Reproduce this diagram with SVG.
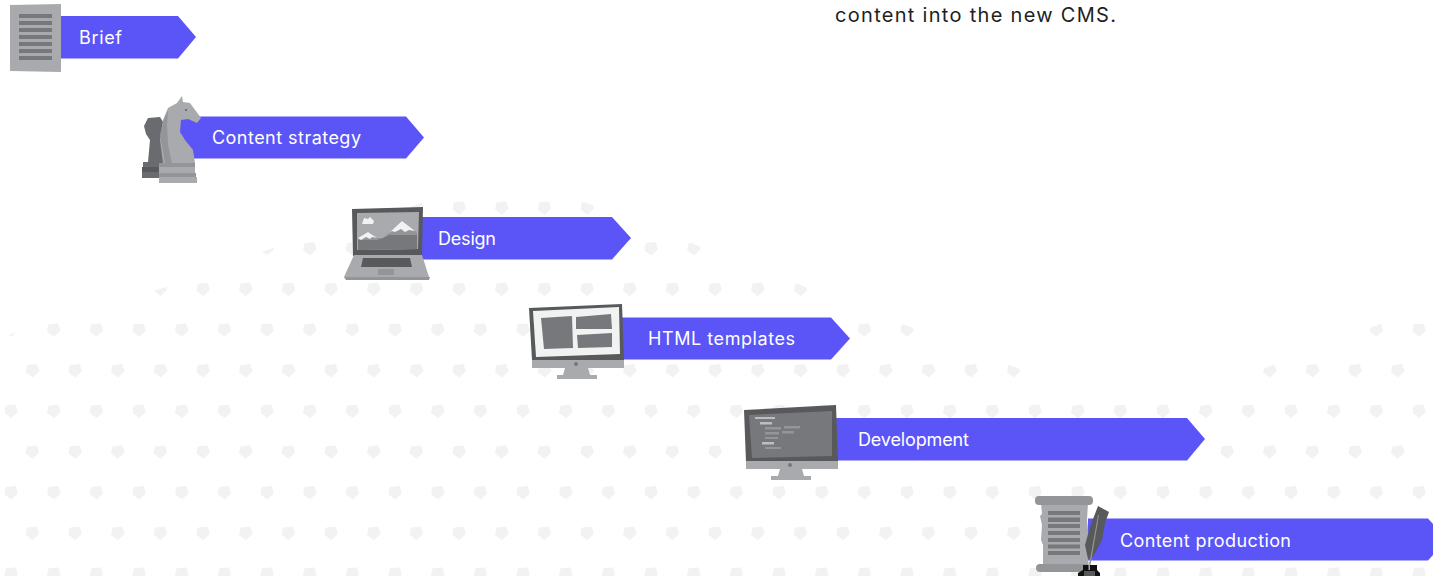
<svg xmlns="http://www.w3.org/2000/svg" xmlns:xlink="http://www.w3.org/1999/xlink" width="1433" height="576" viewBox="0 0 1433 576">
<style>
.bar{fill:#5b55f7}
.lbl{font-family:"Inter","Liberation Sans",sans-serif;font-size:18px;fill:#fff}
.note{font-family:"Inter","Liberation Sans",sans-serif;font-size:20px;fill:#1e1e1e}
.g1{fill:#a9aaad}.g2{fill:#77787b}.g3{fill:#58595b}.g4{fill:#939598}.g5{fill:#bcbdc0}.g6{fill:#6a6b6e}.w{fill:#f1f2f2}
</style>
<defs>
<path id="p" d="M-4.800-5.200L4.300-6.100L6.400 .6L.3 6.300L-6.100 1.500z" fill="#f2f2f2" stroke="#f2f2f2" stroke-width="1" stroke-linejoin="round"/>
<g id="p2"><use href="#p"/><use href="#p" x="42.667"/></g>
<g id="p4"><use href="#p2"/><use href="#p2" x="85.333"/></g>
<g id="p8"><use href="#p4"/><use href="#p4" x="170.667"/></g>
<g id="p16"><use href="#p8"/><use href="#p8" x="341.333"/></g>
<g id="row"><use href="#p16"/><use href="#p16" x="682.667"/><use href="#p2" x="1365.333"/></g>
<clipPath id="wave"><path d="M0 338L12 334L160 289L267 250L410 207L425 201L470 195L560 195L590 204L696 245L803 286L910 327L1017 368L1108 403L1172 403L1268 367L1375 326L1433 304V576H0z"/></clipPath>
</defs>
<g id="dot-field" clip-path="url(#wave)">
<use href="#row" x="32.33" y="208"/>
<use href="#row" x="11" y="248.700"/>
<use href="#row" x="32.33" y="289.300"/>
<use href="#row" x="11" y="330"/>
<use href="#row" x="32.33" y="370.700"/>
<use href="#row" x="11" y="411.300"/>
<use href="#row" x="32.33" y="452"/>
<use href="#row" x="11" y="492.700"/>
<use href="#row" x="32.33" y="533.300"/>
<use href="#row" x="11" y="574"/>
</g>
<text id="note" class="note" x="835" y="22" textLength="281">content into the new CMS.</text>
<g id="brief">
<path class="bar" d="M60 16H178L196 37L178 58.500H60z"/>
<path class="g1" d="M10 5L61 4L61 72L10 71z"/>
<path class="g2" d="M19 14H52V18H19zM19 21H52V25H19zM19 28H52V32H19zM19 35H52V39H19zM19 42H52V46H19zM19 49H52V53H19zM19 56H52V60H19z"/>
<text class="lbl" x="79" y="44" textLength="43">Brief</text>
</g>
<g id="content-strategy">
<path class="bar" d="M180 116.500H406L424 137.500L406 158.500H180z"/>
<path class="g6" d="M144 126L148 118L160 117L165 125V162H148L150 140L146 134z"/>
<path class="g6" d="M143 162H165V167H143zM142 172H165V178H142z"/>
<path class="g3" d="M142 167H165V172H142z"/>
<path class="g1" d="M163 163L160 140L163 120L168 108L177 103L182 96L183 102L190 103L201 118L197 123L188 119L181 120L180 132L185 140L193 150L195 163z"/>
<path class="g4" d="M168 110L163 122L160 135L165 163H172L168 145L167 125z"/>
<path class="g4" d="M159 163H195V167H159zM159 173H196V177H159z"/>
<path class="g1" d="M159 167H195V173H159zM159 177H197V183H159z"/>
<circle class="g3" cx="186" cy="110" r="1"/>
<text class="lbl" x="212" y="144" textLength="149">Content strategy</text>
</g>
<g id="design">
<path class="bar" d="M420 217H612L631 238L612 259.500H420z"/>
<path class="g3" d="M352 209L423 207L422 256H353z"/>
<path class="g1" d="M357 213L419 212L418 249L357 250z"/>
<path class="g4" d="M358 238L368 232L377 238L383 238L389 233L402 221L415 231L417 232V249L358 250z"/>
<path class="g2" d="M358 240L377 240L383 238L389 235L417 235V249L358 250z"/>
<path class="w" d="M358 238L368 232L377 238L372 237L370 239L366 237L361 240zM389 233L402 221L415 231L409 230L405 232L401 229L395 232L392 231zM362 224L364 218L368 219L370 217L374 221L373 224z"/>
<path class="g1" d="M354 255H422L429 277H344z"/>
<path class="g4" d="M344 277H430L429 280H346z"/>
<path class="g3" d="M363 258H410L412 267H361z"/>
<path class="g4" d="M378 269H394V275H378z"/>
<text class="lbl" x="438" y="245" textLength="58">Design</text>
</g>
<g id="html-templates">
<path class="bar" d="M622 317.500H831L850 338.500L831 359.500H622z"/>
<path class="g3" d="M529 308L622 304L624 360L532 360z"/>
<path class="w" d="M533 311L619 307L620 354L536 357z"/>
<path class="g2" d="M541 318L572 316L573 348L544 349zM576 317L611 314L612 329L576 329zM577 335L612 333L612 347L578 348z"/>
<path class="g1" d="M532 360H624V368H532z"/>
<circle class="g2" cx="576" cy="364" r="2"/>
<path class="g1" d="M565 368H588L590 375H563z"/>
<path class="g1" d="M557 375H597V379H557z"/>
<text class="lbl" x="648" y="345" textLength="147">HTML templates</text>
</g>
<g id="development">
<path class="bar" d="M836 418H1187L1205 439L1187 460.500H836z"/>
<path class="g3" d="M744 410L836 405L838 461L746 462z"/>
<path class="g2" d="M749 415L832 411L832 456L752 458z"/>
<path class="g5" d="M755 417H775V419H755zM760 422H772V424.500H760zM762 442H774V444.500H762z"/>
<path class="g4" d="M765 427H781V429.500H765zM784 426H800V428.500H784zM765 432H779V434.500H765zM782 431H794V433.500H782zM765 437H778V439H765zM765 447H781V449H765z"/>
<path class="g1" d="M746 461H838V469H746z"/>
<circle class="g2" cx="790" cy="465" r="2"/>
<path class="g1" d="M780 469H802L804 476H778z"/>
<path class="g1" d="M771 476H811V480H771z"/>
<text class="lbl" x="858" y="446" textLength="111">Development</text>
</g>
<g id="content-production">
<path class="bar" d="M1088 518.500H1428L1433 524V555L1428 560.500H1088z"/>
<path class="g1" d="M1041 503H1088L1087 520L1089 540L1088 566H1043L1043 545L1041 540L1042 525L1040 516L1042 514z"/>
<rect class="g4" x="1035" y="496" width="58" height="9" rx="4"/>
<rect class="g4" x="1036" y="564" width="54" height="8" rx="4"/>
<path class="g2" d="M1048 511H1080V515H1048zM1048 517.500H1080V522H1048zM1048 524H1080V528H1048zM1048 531H1080V535H1048zM1048 538H1080V542H1048zM1048 544.500H1080V548.500H1048zM1048 551H1080V555H1048z"/>
<path class="g3" d="M1088 559L1085 545L1090 527L1098 506L1109 512L1105 523L1102 540L1093 557z"/>
<path class="g4" d="M1088.500 568L1098 515L1099 515L1090 568z"/>
<path d="M1083 565H1097V570L1100 573V576H1078V573L1083 570z" fill="#111"/>
<path class="g3" d="M1084 571H1095V576H1084z"/>
<path class="g1" d="M1088.500 562H1090V570H1088.500z"/>
<text class="lbl" x="1120" y="547" textLength="171">Content production</text>
</g>
</svg>
